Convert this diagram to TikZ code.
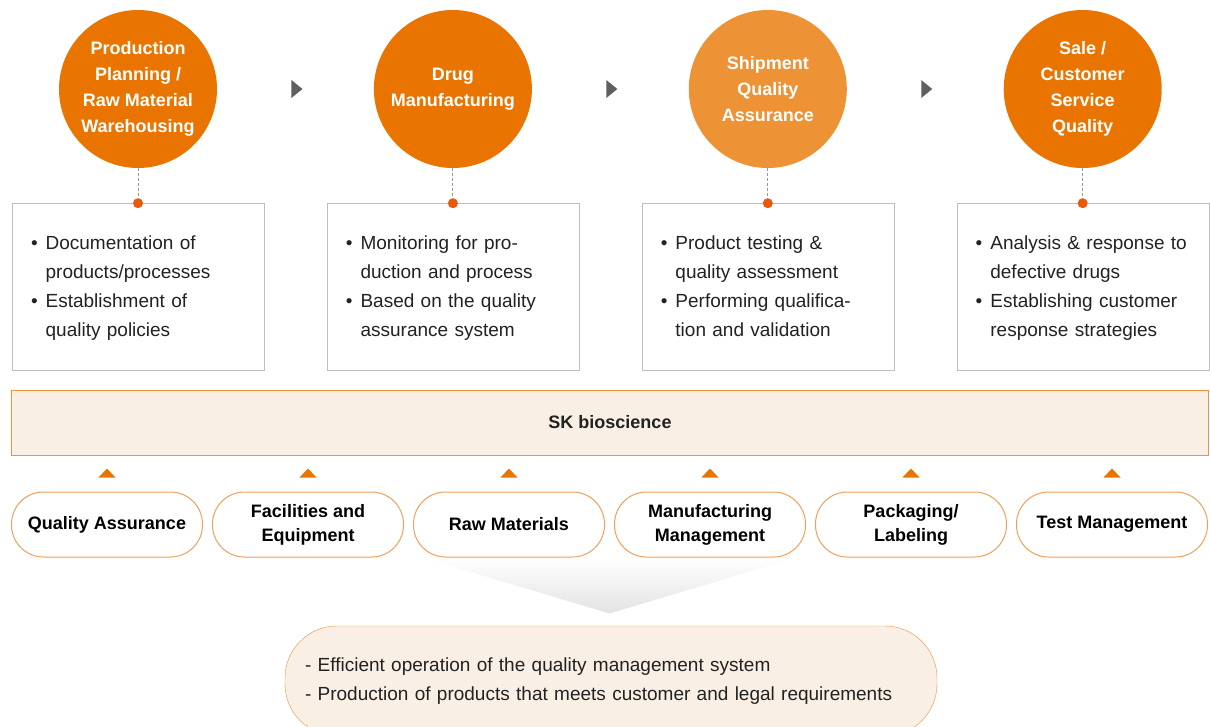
\documentclass[tikz,border=0pt]{standalone}
\usepackage{fontspec}
\setmainfont{Liberation Sans}
\usetikzlibrary{backgrounds, calc, positioning}
\definecolor{stagecol}{RGB}{234, 116, 0}
\definecolor{stageltcol}{RGB}{238, 146, 54}
\definecolor{dotcol}{RGB}{233, 88, 12}
\definecolor{boxcol}{RGB}{190, 190, 190}
\definecolor{leadcol}{RGB}{150, 150, 150}
\definecolor{arrcol}{RGB}{95, 95, 95}
\definecolor{barcol}{RGB}{250, 239, 228}
\definecolor{barline}{RGB}{240, 145, 60}
\definecolor{pillline}{RGB}{240, 160, 90}
\definecolor{txtcol}{RGB}{34, 34, 34}
\newcommand{\itemlist}[1]{\begin{tabular}{@{}l@{\hspace{8pt}}l@{}}#1\end{tabular}}
\tikzset{
  stage/.style    = {circle, fill=stagecol, text=white, minimum size=158pt,
                     inner sep=0pt, align=center,
                     font=\fontsize{18}{26}\selectfont\bfseries},
  stagelt/.style  = {stage, fill=stageltcol},
  notebox/.style  = {draw=boxcol, fill=white, minimum height=167pt,
                     text width=214pt, inner xsep=19pt, inner ysep=0pt,
                     align=left, text=txtcol,
                     font=\fontsize{19}{29}\selectfont},
  dotmark/.style  = {circle, fill=dotcol, minimum size=10pt, inner sep=0pt},
  leadline/.style = {draw=leadcol, dash pattern=on 3pt off 2pt,
                     line width=0.9pt},
  nextarrow/.style = {fill=arrcol},
  basebar/.style  = {draw=barline, fill=barcol, minimum width=1197pt,
                     minimum height=65pt, text=txtcol,
                     font=\fontsize{18}{22}\selectfont\bfseries},
  areabox/.style  = {draw=pillline, line width=1pt, fill=white,
                     rounded corners=32pt, minimum width=191pt,
                     minimum height=65pt, align=center, inner sep=0pt,
                     text=black, font=\fontsize{18}{24}\selectfont\bfseries},
  feed/.style     = {fill=stagecol},
  goalbox/.style  = {draw=barline, fill=barcol, rounded corners=52pt,
                     minimum width=652pt, minimum height=110pt,
                     text width=612pt, inner xsep=20pt, align=left,
                     text=txtcol, font=\fontsize{19}{29}\selectfont},
}

\begin{document}
\begin{tikzpicture}[x=1pt, y=-1pt, node distance=156.5pt]
  \useasboundingbox (0,0) rectangle (1210,726);

  %% ---------------- the four stages ----------------
  \node[stage] (s1) at (138,89)
       {Production\\Planning /\\Raw Material\\Warehousing};
  \node[stage, right=of s1] (s2) {Drug\\Manufacturing};
  \node[stagelt, right=of s2] (s3) {Shipment\\Quality\\Assurance};
  \node[stage, right=of s3] (s4) {Sale /\\Customer\\Service\\Quality};

  \foreach \a/\b in {s1/s2, s2/s3, s3/s4}
    \fill[nextarrow] ($(\a.east)!0.5!(\b.west)$) ++(-4,-9) -- ++(11,9)
         -- ++(-11,9) -- cycle;

  %% ---------------- what each stage covers ----------------
  \node[notebox, below=35pt of s1] (n1)
       {\itemlist{\textbullet & Documentation of\\ & products/processes\\
                  \textbullet & Establishment of\\ & quality policies}};
  \node[notebox, below=35pt of s2] (n2)
       {\itemlist{\textbullet & Monitoring for pro-\\ & duction and process\\
                  \textbullet & Based on the quality\\ & assurance system}};
  \node[notebox, below=35pt of s3] (n3)
       {\itemlist{\textbullet & Product testing \&\\ & quality assessment\\
                  \textbullet & Performing qualifica-\\ & tion and validation}};
  \node[notebox, below=35pt of s4] (n4)
       {\itemlist{\textbullet & Analysis \& response to\\ & defective drugs\\
                  \textbullet & Establishing customer\\ & response strategies}};

  \foreach \i in {1,...,4} {
    \node[dotmark] (d\i) at (n\i.north) {};
    \draw[leadline] (s\i.south) -- (d\i);
  }

  %% ---------------- the company bar ----------------
  \node[basebar] (sk) at (610,422.5) {SK bioscience};

  %% ---------------- the six areas ----------------
  \node[areabox] (a1) at (107,524.5) {Quality Assurance};
  \node[areabox, right=9pt of a1] (a2) {Facilities and\\Equipment};
  \node[areabox, right=9pt of a2] (a3) {Raw Materials};
  \node[areabox, right=9pt of a3] (a4) {Manufacturing\\Management};
  \node[areabox, right=9pt of a4] (a5) {Packaging/\\Labeling};
  \node[areabox, right=9pt of a5] (a6) {Test Management};

  \foreach \p in {a1,a2,a3,a4,a5,a6}
    \fill[feed] ($(\p.north)+(-8.5,-14)$) -- ++(17,0) -- ++(-8.5,-9) -- cycle;

  %% ---------------- the outcome ----------------
  \coordinate (fn) at ($(a3.south)!0.5!(a4.south)$);
  \begin{scope}[on background layer]
    \shade[top color=white, bottom color=black!11]
          ($(fn)+(-187,0)$) -- ($(fn)+(187,0)$) -- ($(fn)+(0,56)$) -- cycle;
  \end{scope}

  \node[goalbox] (goal) at (611,681)
       {- Efficient operation of the quality management system\\
        - Production of products that meets customer and legal requirements};

\end{tikzpicture}
\end{document}
